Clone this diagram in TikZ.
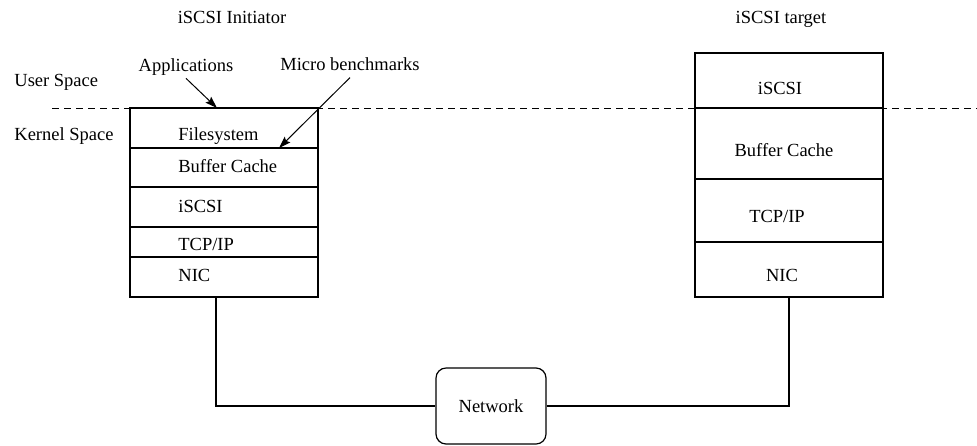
\documentclass[tikz,border=0pt]{standalone}
\usepackage{fontspec}
\setmainfont{Liberation Serif}
\usetikzlibrary{arrows.meta}
\begin{document}
\begin{tikzpicture}[x=0.5pt,y=-0.5pt,
  layer/.style={draw, line width=0.6pt, minimum width=94pt, inner sep=0pt},
  txt/.style={font=\fontsize{9.25}{11}\selectfont, inner sep=0.5pt},
  conn/.style={line width=0.6pt},
  pointer/.style={line width=0.5pt, -{Stealth[length=6pt,width=4pt,inset=1pt]}}]
\useasboundingbox (0,0) rectangle (977,445);

% boundary between user space and kernel space
\draw[dash pattern=on 3.5pt off 2.5pt, line width=0.5pt] (52,108) -- (977,108);

% column titles and space labels
\node[txt, anchor=base] (tinit) at (232,23) {iSCSI Initiator};
\node[txt, anchor=base] (ttarget) at (781,23) {iSCSI target};
\node[txt, anchor=base west] (uspace) at (13,86) {User Space};
\node[txt, anchor=base west] (kspace) at (13,140) {Kernel Space};
\node[txt, anchor=base] (appl) at (186,71) {Applications};
\node[txt, anchor=base] (micro) at (350,70) {Micro benchmarks};

% initiator stack
\node[layer, minimum height=20pt]   (lfs)    at (224,128)   {};
\node[layer, minimum height=19.5pt] (lbuf)   at (224,167.5) {};
\node[layer, minimum height=20pt]   (liscsi) at (224,207)   {};
\node[layer, minimum height=15pt]   (ltcp)   at (224,242)   {};
\node[layer, minimum height=20pt]   (lnic)   at (224,277)   {};
\node[txt, anchor=base west] (lfst)    at (177,140) {Filesystem};
\node[txt, anchor=base west] (lbuft)   at (177,172) {Buffer Cache};
\node[txt, anchor=base west] (liscsit) at (177,212) {iSCSI};
\node[txt, anchor=base west] (ltcpt)   at (177,250) {TCP/IP};
\node[txt, anchor=base west] (lnict)   at (177,281) {NIC};

% target stack
\node[layer, minimum height=27.5pt] (riscsi) at (789,80.5)  {};
\node[layer, minimum height=35.5pt] (rbuf)   at (789,143.5) {};
\node[layer, minimum height=31.5pt] (rtcp)   at (789,210.5) {};
\node[layer, minimum height=27.5pt] (rnic)   at (789,269.5) {};
\node[txt, anchor=base] (riscsit) at (780,94)  {iSCSI};
\node[txt, anchor=base] (rbuft)   at (784,156) {Buffer Cache};
\node[txt, anchor=base] (rtcpt)   at (777,222) {TCP/IP};
\node[txt, anchor=base] (rnict)   at (782,281) {NIC};

% network
\node[draw, line width=0.6pt, rounded corners=5pt, minimum width=55pt,
      minimum height=38pt, inner sep=0pt, font=\fontsize{9.25}{11}\selectfont]
      (net) at (491,406) {Network};

% pointers into the initiator stack
\coordinate (apptip) at (217,108);
\coordinate (microtip) at (279,148);
\draw[pointer] ([yshift=-1pt]appl.south) -- (apptip);
\draw[pointer] ([yshift=-3pt]micro.south) -- (microtip);

% cabling through the network
\coordinate (lport) at ([xshift=-4pt]lnic.south);
\draw[conn] (lport) |- (net.west);
\draw[conn] (net.east) -| (rnic.south);
\end{tikzpicture}
\end{document}
